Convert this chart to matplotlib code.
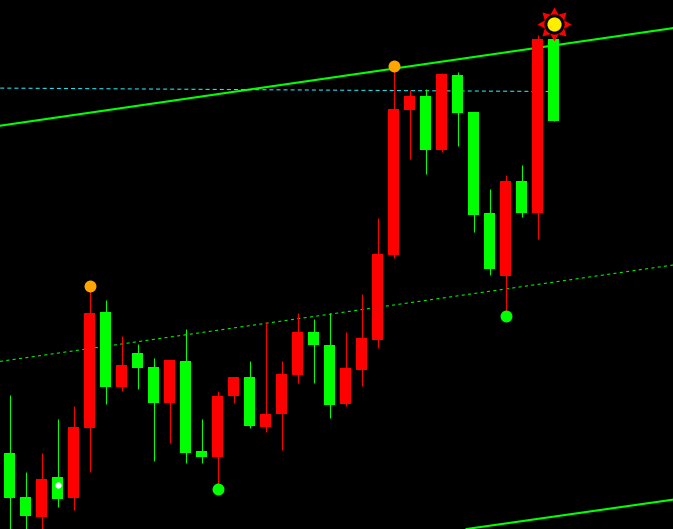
import numpy as np
import matplotlib.pyplot as plt
from matplotlib.path import Path

plt.rcParams['lines.scale_dashes'] = False

# candle data (price units), one entry per bar
opens = [76, 32, 12.3, 52, 31.3, 101.3, 217, 142.3, 176, 162, 126.3, 168, 78, 72.3,
         133.3, 152, 102.3, 115.3, 154.3, 197, 184, 125.3, 159.3, 189.3, 274, 419,
         433, 379.3, 454, 417, 316, 253.3, 348, 316.3, 490]
closes = [31.3, 13.3, 50, 30.3, 102, 216, 142.3, 164, 161.3, 126.3, 169, 76.3, 72.3, 133,
          152, 103.3, 115, 155, 197, 184.3, 124.3, 161, 191, 275, 420, 433,
          379.3, 455, 416.3, 314.3, 260.3, 348, 316.3, 490, 408.3]
highs = [134, 57, 76, 110, 123, 242.7, 229, 193, 185, 171, 169, 200, 110.3, 138,
         152, 168, 207, 168, 216, 210, 216, 197, 235, 311, 462.7, 439,
         440, 456, 457, 417, 340, 354, 364, 494, 504.7]
lows = [-6, -6, -6, 22.3, 19.3, 57.3, 125, 138.3, 140.3, 68.3, 86.3, 66.3, 66.3, 39.7,
        126.3, 101.3, 97.3, 79.3, 146.3, 146.3, 111.3, 123.3, 143.3, 181.3, 271.3, 370.3,
        355.3, 377.3, 383.3, 297.3, 254.3, 212.7, 312.3, 290.3, 408.3]

# signal markers: (bar index, price)
orange_idx = [5, 24]
orange_px = [242.7, 462.7]
green_idx = [13, 31]
green_px = [39.7, 212.7]
white_idx = [3]
white_px = [44]
sun_idx = [34]
sun_px = [504.7]

# trend lines: two anchor points each (bar index, price)
upper_line = [(0, 404.7), (34, 483.6)]
lower_line = [(30, 3.3), (34, 12.4)]
mid_line = [(0, 169.0), (34, 246.9)]
cyan_line = [(-0.6, 440.9), (33.7, 437.5)]

x = np.arange(len(opens))
o = np.array(opens)
c = np.array(closes)
colors = np.where(c >= o, '#ff0000', '#00ff00')

fig = plt.figure(figsize=(6.73, 5.29), dpi=100, facecolor='black')
ax = fig.add_axes([0, 0, 1, 1])
ax.set_facecolor('black')
ax.set_xlim(-9.8 / 16, (673 - 9.8) / 16)
ax.set_ylim(0, 529)
ax.axis('off')

# channel and levels
ax.axline(upper_line[0], upper_line[1], color='#00ff00', lw=1.5, zorder=1)
ax.axline(lower_line[0], lower_line[1], color='#00ff00', lw=1.5, zorder=1)
ax.axline(mid_line[0], mid_line[1], color='#00ee00', lw=0.8, zorder=1,
          dashes=(2.2, 2.4))
ax.plot([p[0] for p in cyan_line], [p[1] for p in cyan_line], color='#22e0e8',
        lw=0.8, dashes=(2.9, 2.2), zorder=1)

# candles
ax.vlines(x, lows, highs, colors=colors, lw=0.75, zorder=2)
ax.bar(x, np.abs(c - o), bottom=np.minimum(o, c), width=11 / 16, color=colors,
       linewidth=0, zorder=3)

# markers
ax.plot(orange_idx, orange_px, 'o', color='#ffa500', ms=8.6, mew=0, zorder=4)
ax.plot(green_idx, green_px, 'o', color='#00ff00', ms=8.6, mew=0, zorder=4)
ax.plot(white_idx, white_px, 'o', color='white', ms=4.5, mew=0, zorder=4)

# sun marker: red 8-point star, black ring, yellow disc
n = 8
ang = np.pi / 2 + np.arange(2 * n) * np.pi / n
rad = np.where(np.arange(2 * n) % 2 == 0, 1.0, 0.62)
verts = np.column_stack([rad * np.cos(ang), rad * np.sin(ang)])
verts = np.vstack([verts, verts[:1]])
star = Path(verts, closed=True)
ax.plot(sun_idx, sun_px, marker=star, color='#ff0000', ms=24.5, mew=0, ls='', zorder=5)
ax.plot(sun_idx, sun_px, 'o', color='black', ms=14.5, mew=0, zorder=6)
ax.plot(sun_idx, sun_px, 'o', color='#ffee00', ms=10.2, mew=0, zorder=7)

fig.savefig('out.png', dpi=100, facecolor='black')
